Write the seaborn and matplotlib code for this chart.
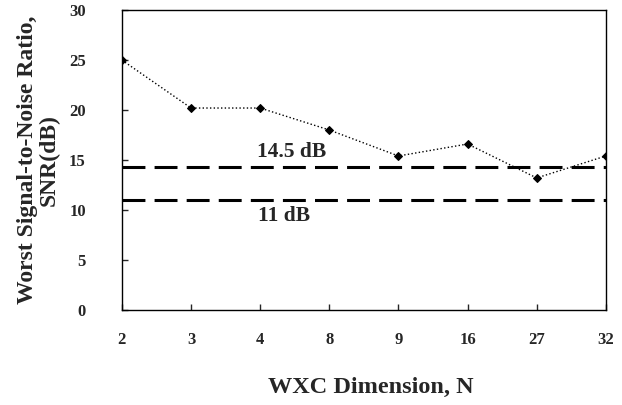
import matplotlib
matplotlib.use("Agg")
import matplotlib.pyplot as plt
import seaborn as sns
import pandas as pd

# Data
dimensions = ["2", "3", "4", "8", "9", "16", "27", "32"]
worst_snr = [25.0, 20.2, 20.2, 18.0, 15.4, 16.6, 13.2, 15.4]
thresholds = [14.3, 11.0]
threshold_labels = ["14.5 dB", "11 dB"]

sns.set_theme(style="ticks")
plt.rcParams["font.family"] = ["Liberation Serif", "DejaVu Serif"]
plt.rcParams["font.weight"] = "bold"

df = pd.DataFrame({"pos": range(len(dimensions)), "snr": worst_snr})

fig = plt.figure(figsize=(6.22, 4.05), dpi=100)
ax = fig.add_axes([0.196, 0.235, 0.778, 0.74])

sns.lineplot(data=df, x="pos", y="snr", ax=ax, color="black", linestyle=":",
             linewidth=1.0, marker="D", markersize=4.5, markeredgecolor="black")

# threshold lines
for t in thresholds:
    ax.axhline(t, color="black", linewidth=2.2, linestyle=(0, (7.5, 3)))

ax.text(2.45, thresholds[0] + 1.5, threshold_labels[0], ha="center", va="center",
        fontsize=15.5, fontweight="bold")
ax.text(2.35, thresholds[1] - 1.6, threshold_labels[1], ha="center", va="center",
        fontsize=15.5, fontweight="bold")

ax.set_xlim(0, len(dimensions) - 1)
ax.set_ylim(0, 30)
ax.set_xticks(range(len(dimensions)))
ax.set_xticklabels(dimensions)
ax.set_yticks(range(0, 31, 5))
ax.tick_params(axis="both", direction="in", length=4, width=1, labelsize=12)
ax.tick_params(axis="x", pad=16)
ax.tick_params(axis="y", pad=26)
for lab in ax.get_xticklabels() + ax.get_yticklabels():
    lab.set_fontweight("bold")

for sp in ax.spines.values():
    sp.set_visible(True)
    sp.set_linewidth(1.0)
    sp.set_color("black")

ax.set_xlabel("WXC Dimension, N", fontsize=17.5, fontweight="bold")
ax.xaxis.set_label_coords(0.515, -0.225)
ax.set_ylabel("Worst Signal-to-Noise Ratio,\nSNR(dB)", fontsize=17,
              fontweight="bold", labelpad=7, linespacing=1.0)

fig.savefig("out.png", dpi=100)
